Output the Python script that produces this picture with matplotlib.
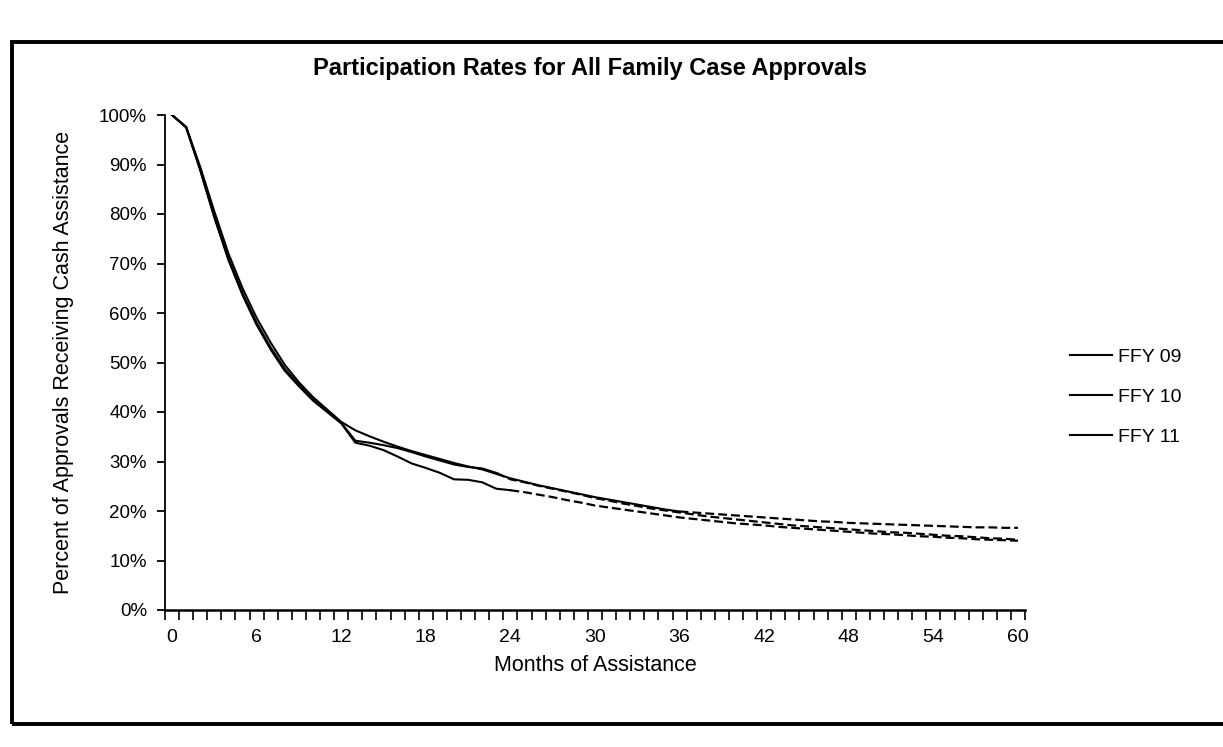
import matplotlib
matplotlib.use("Agg")
import matplotlib.pyplot as plt
from matplotlib.patches import Rectangle
from matplotlib.ticker import FixedLocator, FuncFormatter

plt.rcParams['font.family'] = ['Liberation Sans', 'DejaVu Sans']

# ---- data (percent of approvals still receiving cash assistance) ----
months = list(range(0, 61))
ffy09 = [100, 97.6, 89.5, 80.5, 72.0, 65.0, 59.0, 54.0, 49.5, 46.0, 43.0, 40.5, 38.0,
         36.3, 35.1, 34.0, 33.0, 32.1, 31.3, 30.5, 29.7, 29.0, 28.4, 27.5, 26.6,
         25.9, 25.2, 24.6, 24.0, 23.4, 22.8, 22.3, 21.8, 21.3, 20.8, 20.3, 19.9,
         19.7, 19.5, 19.3, 19.1, 18.9, 18.7, 18.5, 18.3, 18.1, 17.9, 17.8, 17.6,
         17.5, 17.4, 17.3, 17.2, 17.1, 17.0, 16.9, 16.8, 16.7, 16.7, 16.6, 16.6]
ffy10 = [100, 97.5, 89.0, 79.5, 71.0, 64.0, 58.0, 53.0, 48.7, 45.5, 42.5, 40.2, 37.8,
         34.2, 33.8, 33.3, 32.7, 31.9, 31.0, 30.2, 29.4, 28.9, 28.6, 27.7, 26.4,
         25.8, 25.1, 24.5, 23.9, 23.3, 22.6, 22.1, 21.5, 21.0, 20.5, 20.1, 19.7,
         19.3, 18.9, 18.6, 18.3, 18.0, 17.7, 17.4, 17.1, 16.9, 16.7, 16.5, 16.3,
         16.1, 15.9, 15.7, 15.6, 15.4, 15.2, 15.0, 14.9, 14.7, 14.5, 14.4, 14.2]
ffy11 = [100, 97.5, 88.8, 79.3, 70.7, 63.6, 57.6, 52.6, 48.3, 45.2, 42.3, 40.0, 37.7,
         33.8, 33.2, 32.3, 31.0, 29.6, 28.7, 27.7, 26.4, 26.3, 25.8, 24.5, 24.2,
         23.8, 23.3, 22.8, 22.2, 21.7, 21.1, 20.7, 20.3, 19.9, 19.5, 19.1, 18.7,
         18.4, 18.1, 17.8, 17.5, 17.3, 17.1, 16.8, 16.6, 16.4, 16.2, 16.0, 15.8,
         15.6, 15.4, 15.3, 15.1, 14.9, 14.8, 14.6, 14.5, 14.3, 14.2, 14.1, 14.0]
series_labels = ["FFY 09", "FFY 10", "FFY 11"]
x_labels = [0, 6, 12, 18, 24, 30, 36, 42, 48, 54, 60]
y_labels = [0, 10, 20, 30, 40, 50, 60, 70, 80, 90, 100]

W, H = 1223, 747
fig = plt.figure(figsize=(W / 100, H / 100), dpi=100)

# chart frame border (right edge runs off the page)
fig.patches.append(Rectangle((12 / W, 1 - 724 / H), 1.2, (724 - 42) / H,
                             transform=fig.transFigure, fill=False,
                             edgecolor='black', linewidth=2.8))

ax = fig.add_axes([165 / W, 1 - 610 / H, (1025 - 165) / W, (610 - 115) / H])

series = [ffy09, ffy10, ffy11]
split = [36, 23, 24]   # scanned lines look dashed further out
handles = []
for vals, lab, s in zip(series, series_labels, split):
    y = [v / 100 for v in vals]
    h, = ax.plot(months[:s + 1], y[:s + 1], color='black', lw=1.5, label=lab)
    ax.plot(months[s:], y[s:], color='black', lw=1.6, linestyle=(0, (4, 1.8)))
    handles.append(h)

ax.set_xlim(-0.5, 60.5)
ax.set_ylim(0, 1)
ax.spines['top'].set_visible(False)
ax.spines['right'].set_visible(False)
ax.spines['left'].set_linewidth(1.3)
ax.spines['bottom'].set_linewidth(1.8)

ax.xaxis.set_major_locator(FixedLocator(x_labels))
ax.set_xticklabels([str(v) for v in x_labels])
ax.xaxis.set_minor_locator(FixedLocator([m - 0.5 for m in range(0, 62)]))
ax.tick_params(axis='x', which='major', length=0, pad=14, labelsize=14)
ax.tick_params(axis='x', which='minor', length=7, width=1.2, direction='out')

ax.yaxis.set_major_locator(FixedLocator([v / 100 for v in y_labels]))
ax.yaxis.set_major_formatter(FuncFormatter(lambda v, p: f"{v * 100:.0f}%"))
ax.tick_params(axis='y', which='major', length=6, width=1.3, direction='out',
               labelsize=13.5, pad=7)

ax.set_xlabel("Months of Assistance", fontsize=15.5, labelpad=6)
ax.set_ylabel("Percent of Approvals Receiving Cash Assistance", fontsize=15.5,
              labelpad=18)

fig.text(590 / W, 1 - 68 / H, "Participation Rates for All Family Case Approvals",
         ha='center', va='center', fontsize=17, fontweight='bold')

fig.legend(handles=handles, labels=series_labels, loc='center left',
           bbox_to_anchor=(1052 / W, 1 - 397 / H), frameon=False, fontsize=14,
           handlelength=2.2, handletextpad=0.3, labelspacing=1.15)

fig.savefig("out.png", dpi=100, facecolor='white')
